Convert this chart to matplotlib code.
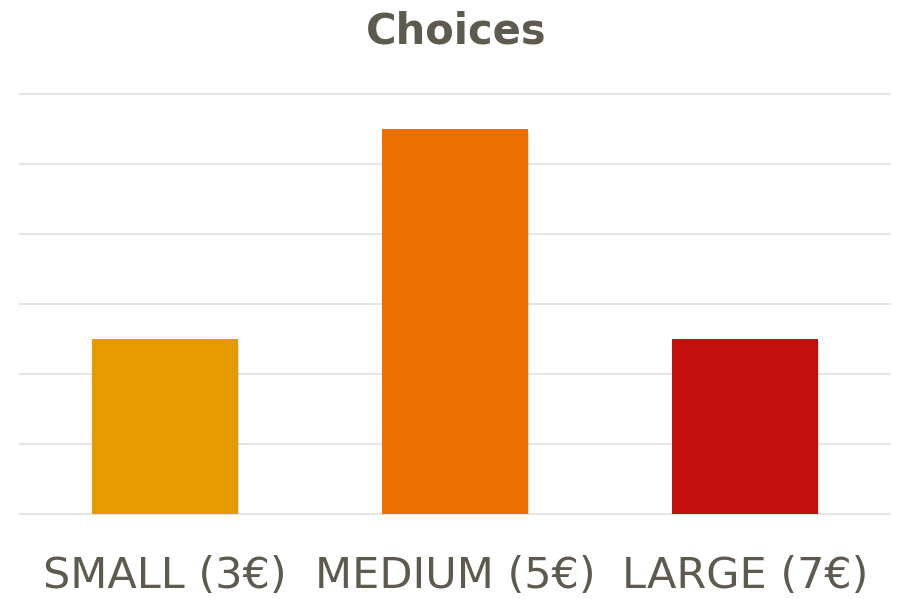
import matplotlib
matplotlib.use("Agg")
import matplotlib.pyplot as plt
import matplotlib.patheffects as pe

# data
categories = ["SMALL (3€)", "MEDIUM (5€)", "LARGE (7€)"]
values = [2.5, 5.5, 2.5]
colors = ["#E59A00", "#EC7000", "#C30E0E"]

text_col = "#5E5A4E"

fig = plt.figure(figsize=(9.04, 5.99), dpi=100)
ax = fig.add_axes([20/904, 1-514/599, 870/904, 420/599])

bars = ax.bar(range(len(categories)), values, width=0.503, color=colors, zorder=3)
for b in bars:
    b.set_path_effects([pe.SimplePatchShadow(offset=(1, -2), shadow_rgbFace="#000000", alpha=0.12),
                        pe.Normal()])

ax.set_xlim(-0.5, 2.5)
ax.set_ylim(0, 6)
ax.set_yticks(range(7))
ax.yaxis.grid(True, color="#E6E6E0", linewidth=1.5, zorder=0)
for gl in ax.get_ygridlines():
    gl.set_clip_on(False)
ax.tick_params(left=False, labelleft=False, bottom=False)
for s in ax.spines.values():
    s.set_visible(False)

ax.set_xticks(range(len(categories)))
ax.set_xticklabels(categories, fontsize=31, color=text_col)
ax.tick_params(axis="x", pad=26)

fig.text(456/904, 1-31/599, "Choices", ha="center", va="center",
         fontsize=30, fontweight="bold", color=text_col)

fig.savefig("out.png", dpi=100)
